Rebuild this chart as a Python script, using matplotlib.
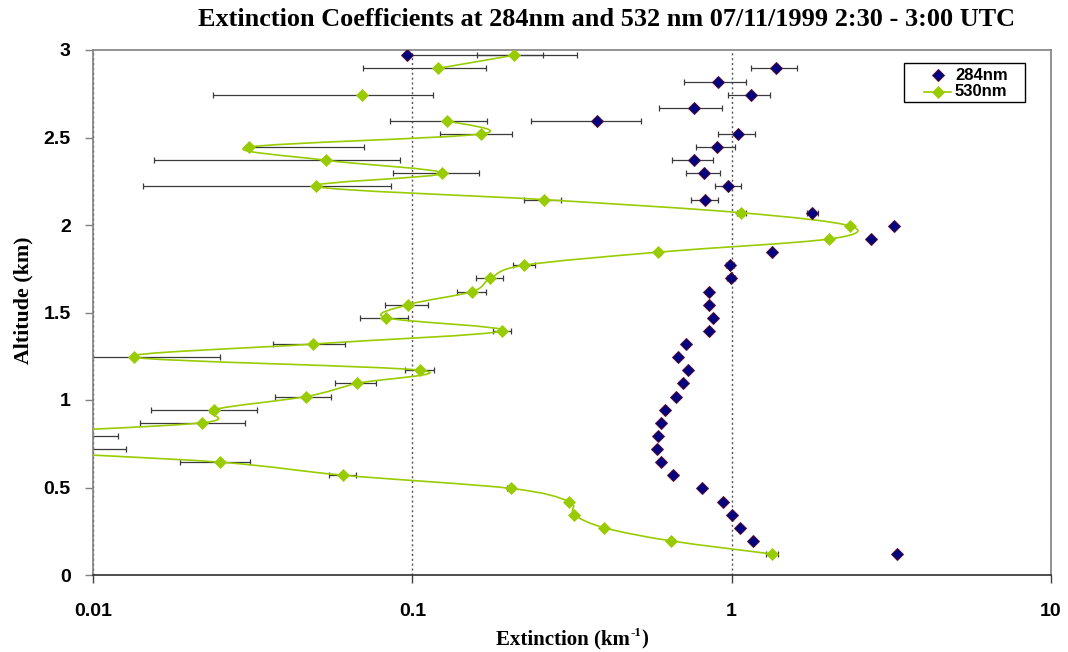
import numpy as np
import matplotlib
matplotlib.use("Agg")
import matplotlib.pyplot as plt
from matplotlib.path import Path
from matplotlib.patches import PathPatch, Rectangle
from matplotlib.lines import Line2D
from matplotlib.ticker import FixedLocator, FixedFormatter, NullLocator

# ---- data -------------------------------------------------------------
altitude_km = [0.120, 0.195, 0.270, 0.345, 0.420, 0.495, 0.570, 0.645, 0.720,
               0.795, 0.870, 0.945, 1.020, 1.095, 1.170, 1.245, 1.320, 1.395,
               1.470, 1.545, 1.620, 1.695, 1.770, 1.845, 1.920, 1.995, 2.070,
               2.145, 2.220, 2.295, 2.370, 2.445, 2.520, 2.595, 2.670, 2.745,
               2.820, 2.895, 2.970]

ext_284 = [3.29, 1.17, 1.06, 1.00, 0.94, 0.81, 0.657, 0.60, 0.584, 0.59,
           0.60, 0.62, 0.667, 0.703, 0.73, 0.678, 0.72, 0.851, 0.873, 0.848,
           0.851, 0.994, 0.99, 1.34, 2.73, 3.23, 1.79, 0.826, 0.977, 0.82,
           0.764, 0.898, 1.045, 0.378, 0.764, 1.148, 0.908, 1.377, 0.096]
err_284 = [0, 0, 0, 0, 0, 0, 0, 0, 0, 0,
           0, 0, 0, 0, 0, 0, 0, 0, 0, 0,
           0, 0.03, 0.03, 0, 0, 0, 0.07, 0.081, 0.093, 0.10,
           0.112, 0.123, 0.138, 0.142, 0.17, 0.175, 0.20, 0.225, 0.233]

nan = float("nan")
ext_530 = [1.339, 0.645, 0.399, 0.321, 0.309, 0.203, 0.0608, 0.0249, 0.0050,
           0.0045, 0.0220, 0.0239, 0.0465, 0.0671, 0.106, 0.0134, 0.049, 0.191,
           0.0827, 0.0971, 0.154, 0.1755, 0.224, 0.590, 2.02, 2.34, 1.073,
           0.258, 0.0499, 0.1242, 0.0535, 0.0307, 0.1637, 0.1281, nan, 0.0697,
           nan, 0.1201, 0.2083]
err_530 = [0.056, 0, 0, 0, 0, 0.005, 0.006, 0.0062, 0.0077,
           0.0075, 0.008, 0.0087, 0.0093, 0.010, 0.011, 0.0115, 0.0125, 0.0125,
           0.014, 0.015, 0.0156, 0.017, 0.0175, 0.012, 0, 0, 0.034,
           0.035, 0.0356, 0.037, 0.038, 0.040, 0.042, 0.043, 0, 0.046,
           0, 0.050, 0.049]

series_labels = ["284nm", "530nm"]
x_ticks = [0.01, 0.1, 1, 10]
x_tick_labels = ["0.01", "0.1", "1", "10"]
y_ticks = [0, 0.5, 1, 1.5, 2, 2.5, 3]
y_tick_labels = ["0", "0.5", "1", "1.5", "2", "2.5", "3"]

title_text = "Extinction Coefficients at 284nm and 532 nm 07/11/1999 2:30 - 3:00 UTC"
xlabel_parts = ("Extinction (km", "-1", ")")
ylabel_text = "Altitude (km)"

# ---- style ------------------------------------------------------------
NAVY = "#000080"
NAVY_EDGE = "#5a1030"
GREEN = "#99CC00"
ERR = "#3a3a3a"
SANS = ["Liberation Sans", "DejaVu Sans"]
SERIF = ["Liberation Serif", "DejaVu Serif"]

W, H = 1068, 652
fig = plt.figure(figsize=(W / 100, H / 100), dpi=100)
fig.patch.set_facecolor("white")


def px(x, y):
    """Pixel position (from top-left) to figure fraction."""
    return x / W, 1 - y / H


ax = fig.add_axes([93 / W, 1 - 575 / H, (1051 - 93) / W, (575 - 50) / H])
ax.set_xscale("log")
ax.set_xlim(0.01, 10)
ax.set_ylim(0, 3)

alt = np.asarray(altitude_km)
b_val = np.asarray(ext_284)
b_err = np.asarray(err_284)
g_val = np.asarray(ext_530)
g_err = np.asarray(err_530)


def draw_errorbars(vals, errs):
    m = np.isfinite(vals) & (errs > 0)
    v, e, y = vals[m], errs[m], alt[m]
    # a lower bound at or below zero has no place on a log axis: skip that half
    low = np.where(v - e > 0, e, 0.0)
    ax.errorbar(v, y, xerr=[low, e], fmt="none", ecolor=ERR, elinewidth=0.9,
                capsize=2.2, capthick=0.9, zorder=2)


def smooth_path(vals, ys):
    """Bezier path through the points, in log-x space, broken at gaps."""
    u = np.log10(vals)
    ok = np.isfinite(u)
    runs, cur = [], []
    for i in range(len(u)):
        if ok[i]:
            cur.append(i)
        elif cur:
            runs.append(cur)
            cur = []
    if cur:
        runs.append(cur)
    verts, codes = [], []
    for run in runs:
        if len(run) < 2:
            continue
        P = np.column_stack([u[run], np.asarray(ys)[run]])
        n = len(P)
        verts.append(P[0])
        codes.append(Path.MOVETO)
        for i in range(n - 1):
            p0 = P[i - 1] if i > 0 else P[i]
            p1, p2 = P[i], P[i + 1]
            p3 = P[i + 2] if i + 2 < n else P[i + 1]
            verts += [p1 + (p2 - p0) / 6.0, p2 - (p3 - p1) / 6.0, p2]
            codes += [Path.CURVE4] * 3
    verts = np.array(verts)
    verts[:, 0] = 10 ** verts[:, 0]
    return Path(verts, codes)


draw_errorbars(b_val, b_err)
draw_errorbars(g_val, g_err)

ax.add_patch(PathPatch(smooth_path(g_val, alt), facecolor="none",
                       edgecolor=GREEN, lw=1.2, zorder=3))

ax.plot(b_val, alt, ls="none", marker="D", ms=5.8, mfc=NAVY, mec=NAVY_EDGE,
        mew=0.7, zorder=4)
ax.plot(g_val, alt, ls="none", marker="D", ms=6.0, mfc=GREEN, mec=GREEN,
        mew=0.5, zorder=5)

# ---- axes -------------------------------------------------------------
ax.xaxis.set_major_locator(FixedLocator(x_ticks))
ax.xaxis.set_major_formatter(FixedFormatter(x_tick_labels))
ax.xaxis.set_minor_locator(NullLocator())
ax.yaxis.set_major_locator(FixedLocator(y_ticks))
ax.yaxis.set_major_formatter(FixedFormatter(y_tick_labels))

ax.tick_params(axis="x", direction="out", length=6, width=1, color="#404040",
               pad=14, labelsize=14)
ax.tick_params(axis="y", direction="out", length=6, width=1, color="#808080",
               pad=10, labelsize=14)
for lab in ax.get_xticklabels() + ax.get_yticklabels():
    lab.set_family(SANS)
    lab.set_fontweight("bold")

for side in ("top", "right", "left"):
    ax.spines[side].set_color("#808080")
    ax.spines[side].set_linewidth(1.2)
ax.spines["bottom"].set_color("#303030")
ax.spines["bottom"].set_linewidth(1.2)

ax.xaxis.grid(True, which="major", color="#555555", lw=1.0, ls=(0, (1.5, 2.0)))
ax.set_axisbelow(True)

# ---- legend box -------------------------------------------------------
x0, y0 = px(904, 102)
x1, y1 = px(1025, 63)
fig.add_artist(Rectangle((x0, y0), x1 - x0, y1 - y0, transform=fig.transFigure,
                         facecolor="white", edgecolor="black", lw=1.0, zorder=10))
lx_mark, lx_a, lx_b, lx_text = 937.7, 924, 951, 955
row_y = [74.5, 91.5]
fig.add_artist(Line2D([px(lx_mark, 0)[0]], [px(0, row_y[0])[1]],
                      transform=fig.transFigure, ls="none", marker="D", ms=5.8,
                      mfc=NAVY, mec=NAVY_EDGE, mew=0.7, zorder=11))
fig.add_artist(Line2D([px(lx_a, 0)[0], px(lx_b, 0)[0]],
                      [px(0, row_y[1])[1]] * 2, transform=fig.transFigure,
                      color=GREEN, lw=1.2, zorder=11))
fig.add_artist(Line2D([px(lx_mark, 0)[0]], [px(0, row_y[1])[1]],
                      transform=fig.transFigure, ls="none", marker="D", ms=6.0,
                      mfc=GREEN, mec=GREEN, mew=0.5, zorder=11))
for lbl, ry in zip(series_labels, row_y):
    fig.text(*px(lx_text, ry + 0.5), lbl, ha="left", va="center", family=SANS,
             weight="bold", fontsize=12, zorder=12)

# ---- titles -----------------------------------------------------------
title = fig.text(*px(606, 19), title_text, ha="center", va="center",
                 family=SERIF, weight="bold", fontsize=16)
ylab = fig.text(*px(23, 300), ylabel_text, ha="center", va="center",
                rotation=90, family=SERIF, weight="bold", fontsize=14)

renderer = fig.canvas.get_renderer()


def fit(txt, target_px, use_height=False):
    bb = txt.get_window_extent(renderer)
    cur = bb.height if use_height else bb.width
    txt.set_fontsize(txt.get_fontsize() * target_px / cur)


fit(title, 818)
fit(ylab, 128, use_height=True)

# x-axis label: base text with a raised "-1"
xl_size = 15
main_t = fig.text(0, 0, xlabel_parts[0], family=SERIF, weight="bold",
                  fontsize=xl_size, va="baseline")
sup_t = fig.text(0, 0, xlabel_parts[1], family=SERIF, weight="bold",
                 fontsize=xl_size * 0.62, va="baseline")
end_t = fig.text(0, 0, xlabel_parts[2], family=SERIF, weight="bold",
                 fontsize=xl_size, va="baseline")
w_main = main_t.get_window_extent(renderer).width
w_sup = sup_t.get_window_extent(renderer).width
w_end = end_t.get_window_extent(renderer).width
total = w_main + w_sup + w_end + 1
start = 572 - total / 2
base_y = 644
main_t.set_position(px(start, base_y))
sup_t.set_position(px(start + w_main + 0.5, base_y - 8))
end_t.set_position(px(start + w_main + w_sup + 1, base_y))

fig.savefig("out.png", dpi=100, facecolor="white")
